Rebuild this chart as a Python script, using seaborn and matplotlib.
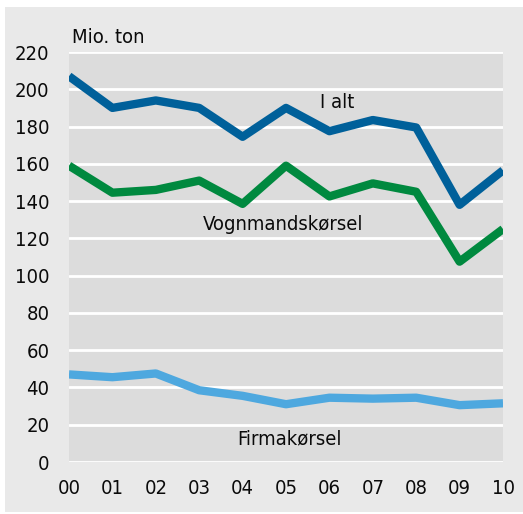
import pandas as pd
import seaborn as sns
from matplotlib import pyplot as plt
from matplotlib import font_manager
from matplotlib.patches import Rectangle

years = ["00", "01", "02", "03", "04", "05", "06", "07", "08", "09", "10"]
i_alt = [207, 190, 194, 190, 174.5, 190, 177.5, 183.5, 179.5, 138, 156.5]
vognmand = [159, 144.5, 146, 151, 138.5, 159, 142.5, 149.5, 145, 107.5, 125]
firma = [47, 45.5, 47.5, 38.5, 35.5, 31, 34.5, 34, 34.5, 30.5, 31.5]
y_ticks = list(range(0, 221, 20))

colors = {"I alt": "#00609a", "Vognmandskørsel": "#00893f", "Firmakørsel": "#4ea8df"}

sns.set_theme(style="white")

# look for a narrow / condensed regular face
fam, stretch = "DejaVu Sans", "normal"
for key in ["LiberationSansNarrow-Regular", "DejaVuSansCondensed.ttf", "Condensed-Regular", "Narrow-Regular"]:
    hits = [f for f in font_manager.fontManager.ttflist if key in f.fname]
    if hits:
        fam, stretch = hits[0].name, hits[0].stretch
        break
plt.rcParams["font.family"] = [fam, "DejaVu Sans"]
plt.rcParams["font.stretch"] = stretch

df = pd.DataFrame({
    "x": list(range(len(years))) * 3,
    "value": i_alt + vognmand + firma,
    "serie": ["I alt"] * 11 + ["Vognmandskørsel"] * 11 + ["Firmakørsel"] * 11,
})

fig = plt.figure(figsize=(5.23, 5.14), dpi=100)
fig.patch.set_facecolor("white")
fig.patches.append(Rectangle((5 / 523, 2 / 514), 518 / 523, 505 / 514,
                             transform=fig.transFigure, facecolor="#e9e9e9",
                             edgecolor="none", zorder=-5))
ax = fig.add_axes([69 / 523, 1 - 462 / 514, 434 / 523, 410 / 514])
ax.set_facecolor("#dcdcdc")

sns.lineplot(data=df, x="x", y="value", hue="serie", palette=colors,
             linewidth=6, legend=False, ax=ax, solid_capstyle="butt")

ax.set_xlim(0, 10)
ax.set_ylim(0, 220)
ax.set_yticks(y_ticks)
ax.set_xticks(range(len(years)))
ax.set_xticklabels(years)
ax.grid(axis="y", color="white", linewidth=2)
ax.set_axisbelow(True)
for s in ax.spines.values():
    s.set_visible(False)
ax.tick_params(axis="both", length=0, labelsize=14.5, colors="#0a0a0a")
ax.tick_params(axis="y", pad=14)
ax.tick_params(axis="x", pad=12)
ax.set_xlabel("")
ax.set_ylabel("")

txt = dict(fontsize=14.5, color="#0a0a0a")
ax.text(0.07, 225, "Mio. ton", ha="left", va="baseline", **txt)
ax.text(6.17, 193, "I alt", ha="center", va="center", **txt)
ax.text(4.93, 127.5, "Vognmandskørsel", ha="center", va="center", **txt)
ax.text(5.09, 12.5, "Firmakørsel", ha="center", va="center", **txt)

fig.savefig("out.png", dpi=100, facecolor=fig.get_facecolor())
